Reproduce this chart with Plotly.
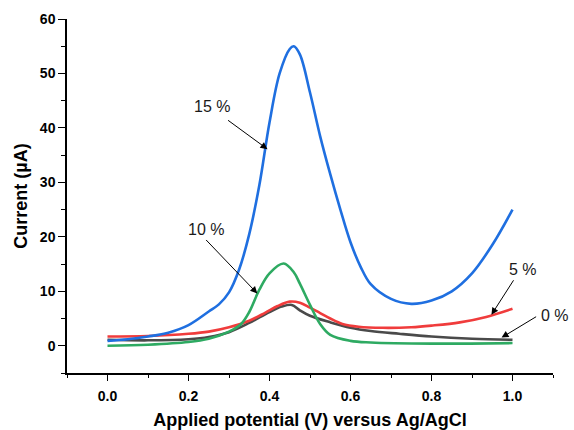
import plotly.graph_objects as go

# ---- data ----
x_15 = [0, 0.05, 0.1, 0.15, 0.2, 0.25, 0.275, 0.3, 0.325, 0.35, 0.375, 0.4, 0.425, 0.45,
        0.46, 0.475, 0.5, 0.525, 0.55, 0.575, 0.6, 0.625, 0.65, 0.7, 0.75, 0.8, 0.85,
        0.9, 0.95, 1.0]
y_15 = [0.9, 1.2, 1.7, 2.4, 3.8, 6.3, 7.6, 9.8, 14, 20.5, 29.5, 41, 50, 54.5,
        55, 53.5, 46.5, 38.5, 31.5, 25, 19, 14.5, 11.3, 8.6, 7.7, 8.3, 10,
        13.3, 18.5, 25]

x_10 = [0, 0.1, 0.2, 0.25, 0.3, 0.33, 0.35, 0.375, 0.4, 0.435, 0.46, 0.475, 0.5, 0.525,
        0.55, 0.6, 0.65, 0.8, 1.0]
y_10 = [0.0, 0.2, 0.7, 1.3, 2.6, 4.0, 6.2, 10.3, 13.3, 15.1, 13.5, 11.4, 7.5, 4.0,
        2.0, 0.9, 0.6, 0.4, 0.5]

x_5 = [0, 0.1, 0.2, 0.25, 0.3, 0.35, 0.39, 0.42, 0.45, 0.475, 0.5, 0.525, 0.55, 0.58,
       0.62, 0.68, 0.75, 0.8, 0.87, 0.935, 1.0]
y_5 = [1.7, 1.8, 2.2, 2.6, 3.4, 4.6, 6.1, 7.3, 8.1, 7.9, 7.0, 6.0, 5.0, 4.0,
       3.5, 3.3, 3.4, 3.7, 4.3, 5.3, 6.8]

x_0 = [0, 0.1, 0.2, 0.25, 0.3, 0.35, 0.4, 0.43, 0.455, 0.475, 0.5, 0.55, 0.6, 0.65,
       0.72, 0.8, 0.9, 1.0]
y_0 = [1.1, 1.0, 1.2, 1.6, 2.5, 4.2, 6.2, 7.2, 7.5, 6.5, 5.5, 4.3, 3.3, 2.7,
       2.2, 1.7, 1.3, 1.1]

series = [
    ("0 %", x_0, y_0, "#4a4a4a"),
    ("5 %", x_5, y_5, "#f03c3c"),
    ("10 %", x_10, y_10, "#2eaa62"),
    ("15 %", x_15, y_15, "#1f6fe0"),
]

# label text position (paper x, data y), arrow tail, arrow tip (data coords)
labels = ["15 %", "10 %", "5 %", "0 %"]
label_xy = [(0.299, 44.0), (0.286, 21.4), (0.938, 14.0), (1.004, 5.5)]
arrow_tail = [(0.294, 41.6), (0.240, 19.7), (1.005, 12.3), (1.062, 5.5)]
arrow_tip = [(0.395, 36.1), (0.370, 9.6), (0.948, 5.7), (0.973, 1.5)]

fig = go.Figure()
for name, xs, ys, col in series:
    fig.add_trace(go.Scatter(x=xs, y=ys, mode="lines", name=name,
                             line=dict(color=col, width=2.6, shape="spline", smoothing=1.0)))

for lab, (tx, ty), (ax, ay), (hx, hy) in zip(labels, label_xy, arrow_tail, arrow_tip):
    fig.add_annotation(x=tx, y=ty, xref="paper", yref="y", xanchor="center", yanchor="middle",
                       text=lab, showarrow=False,
                       font=dict(family="Liberation Sans, Arial", size=16, color="#1a1a1a"))
    fig.add_annotation(x=hx, y=hy, ax=ax, ay=ay, axref="x", ayref="y", text="",
                       showarrow=True, arrowhead=2, arrowsize=1.4, arrowwidth=1,
                       arrowcolor="#000000")

fig.update_layout(
    width=574, height=430,
    margin=dict(l=67, r=21, t=19, b=57),
    paper_bgcolor="white", plot_bgcolor="white",
    showlegend=False,
    font=dict(family="Liberation Sans, Arial", color="#000000"),
)
fig.update_xaxes(
    range=[-0.1, 1.1], tickvals=[0, 0.2, 0.4, 0.6, 0.8, 1.0], tickformat=".1f",
    ticks="outside", ticklen=6, tickwidth=1.2, tickcolor="black", ticklabelstandoff=3,
    minor=dict(tickvals=[-0.1, 0.1, 0.3, 0.5, 0.7, 0.9, 1.1], ticks="outside",
               ticklen=3, tickwidth=1.2, tickcolor="black"),
    showline=True, linecolor="black", linewidth=1.5, showgrid=False, zeroline=False,
    automargin=False,
    tickfont=dict(family="Liberation Sans, Arial", size=14, color="black", weight="bold"),
    title=dict(text="<b>Applied potential (V) versus Ag/AgCl</b>",
               font=dict(family="Liberation Sans, Arial", size=18, color="black"), standoff=12),
)
fig.update_yaxes(
    range=[-5, 60], tickvals=[0, 10, 20, 30, 40, 50, 60],
    ticks="outside", ticklen=7, tickwidth=1.2, tickcolor="black",
    minor=dict(tickvals=[-5, 5, 15, 25, 35, 45, 55], ticks="outside",
               ticklen=4, tickwidth=1.2, tickcolor="black"),
    showline=True, linecolor="black", linewidth=1.5, showgrid=False, zeroline=False,
    automargin=False,
    tickfont=dict(family="Liberation Sans, Arial", size=14, color="black", weight="bold"),
    title=dict(text="<b>Current (µA)</b>",
               font=dict(family="Liberation Sans, Arial", size=18, color="black"), standoff=8),
)

fig.write_html("out.html")
